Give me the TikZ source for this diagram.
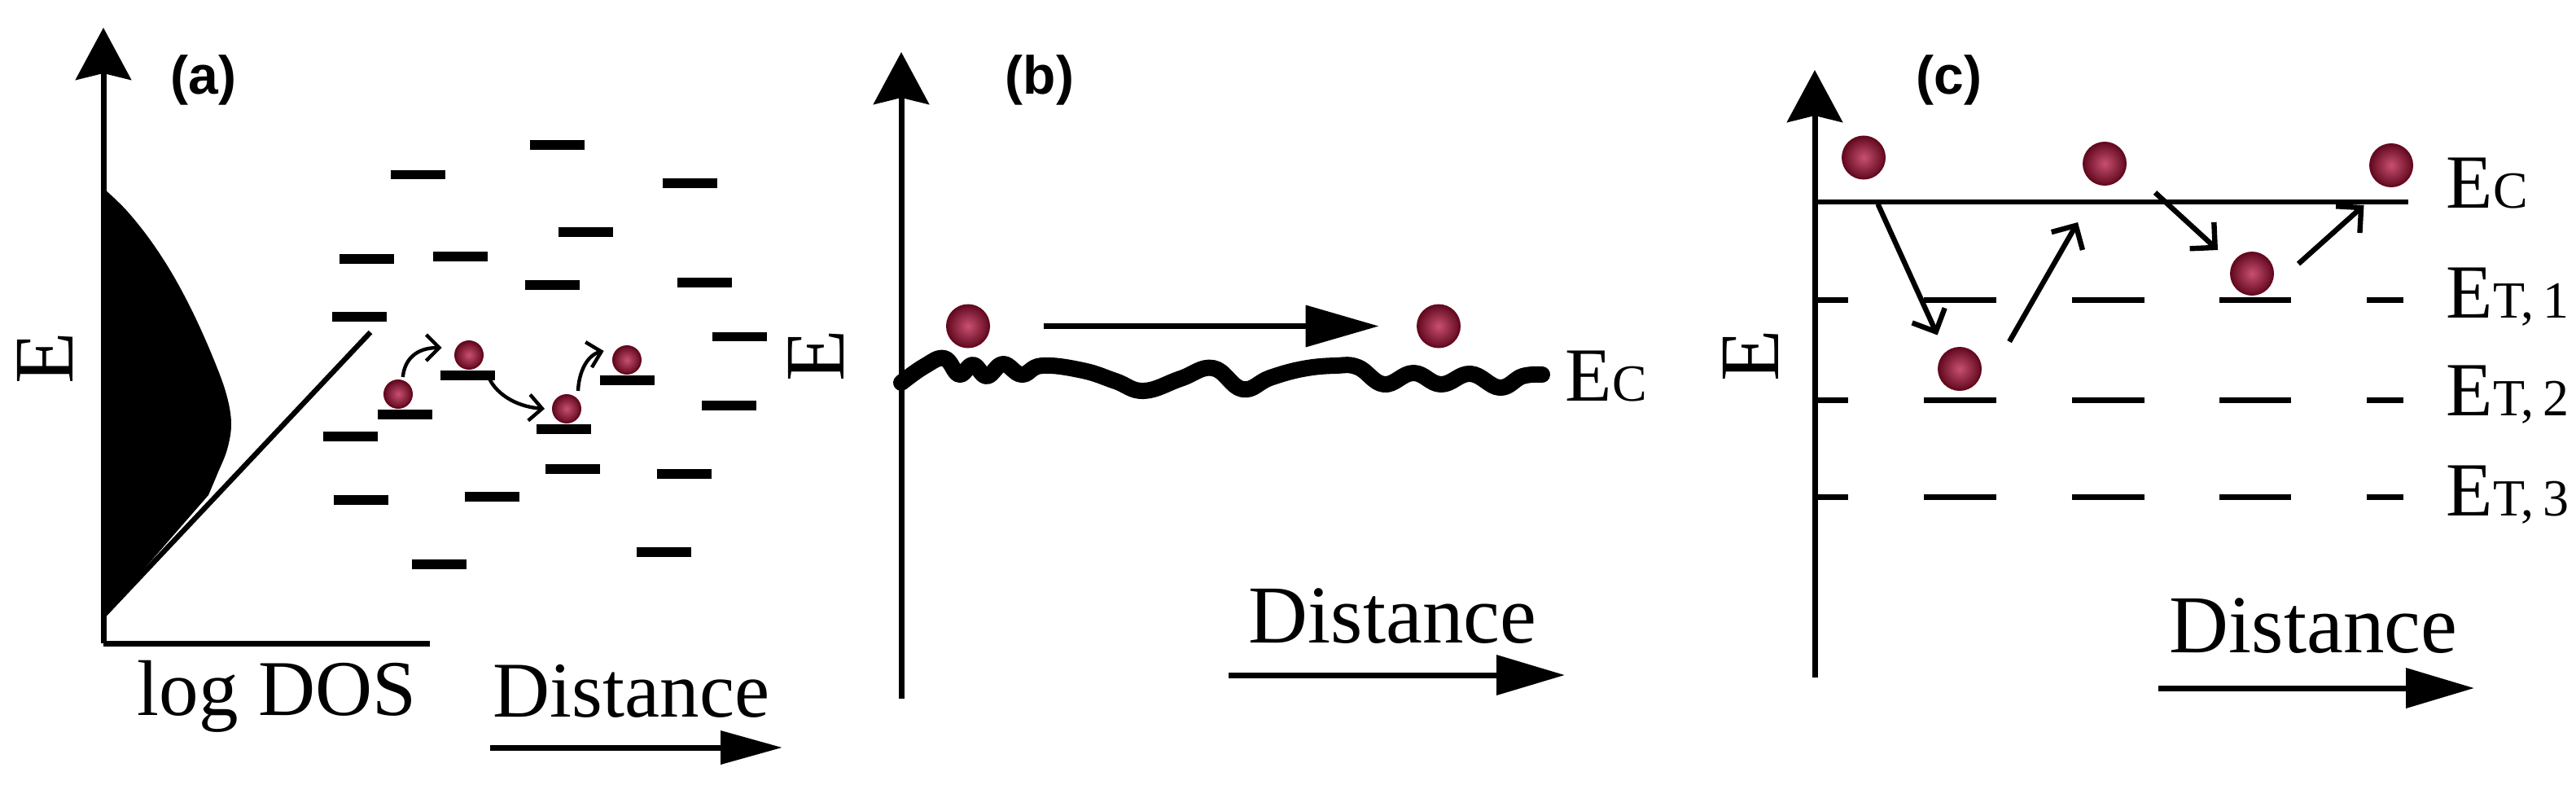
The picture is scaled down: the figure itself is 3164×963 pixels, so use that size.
\documentclass[tikz,border=0pt]{standalone}
\usepackage{fontspec}
\setmainfont{Liberation Serif}
\newfontfamily\labsf{Liberation Sans}
\usetikzlibrary{arrows.meta,calc}
\definecolor{edark}{RGB}{100,10,32}
\definecolor{elight}{RGB}{200,80,112}
\begin{document}
\begin{tikzpicture}[x=0.25pt,y=-0.25pt,
  axis/.style={line width=1.75pt,-{Stealth[length=16pt,width=17pt,inset=2pt]}},
  plain/.style={line width=1.75pt},
  distarrow/.style={line width=1.75pt,-{Triangle[length=21pt,width=12pt]}},
  level/.style={line width=2.9pt},
  trap/.style={line width=1.75pt},
  electron/.style={circle,inner sep=0pt,shading=radial,inner color=elight,outer color=edark,draw=edark,line width=0.5pt},
  hopa/.style={line width=1.1pt,-{Straight Barb[length=4pt,width=8pt]}},
  hopc/.style={line width=1.6pt,-{Straight Barb[length=5.5pt,width=11pt]}},
  wavy/.style={line width=5pt,line cap=round,line join=round},
  lbl/.style={inner sep=0pt,font=\fontsize{24.25pt}{28pt}\selectfont},
  ylbl/.style={inner sep=0pt,rotate=90,font=\fontsize{26pt}{30pt}\selectfont},
  lblb/.style={inner sep=0pt,font=\fontsize{25.25pt}{29pt}\selectfont},
  elbl/.style={inner sep=0pt,font=\fontsize{23.5pt}{27pt}\selectfont},
  panel/.style={inner sep=0pt,font=\labsf\bfseries\fontsize{16.5pt}{18pt}\selectfont}]
\useasboundingbox (0,0) rectangle (3164,963);
\fill[white] (0,0) rectangle (3164,963);
\newcommand{\sub}[1]{{\fontsize{16pt}{18pt}\selectfont #1}}

% ================= panel (a) =================
\coordinate (ao) at (127,790);
\coordinate (atop) at (127,34);
\coordinate (aright) at (528,790);
\fill (128,232) plot[smooth,tension=0.6] coordinates {(128,232) (155,258) (184,294) (212,337) (238,386) (262,440) (278,484) (284,520) (279,552) (267,582) (256,608)} -- (128,755) -- cycle;
\coordinate (dl0) at (128,755);
\coordinate (dl1) at (455,408);
\draw[line width=1.6pt] (dl0) -- (dl1);
\draw[axis] (ao) -- (atop);
\draw[plain] (ao) -- (aright);
\node[panel] (la) at (250,98) {(a)};
\node[ylbl] (Ea) at (55,440) {E};
\node[lbl,anchor=base west] (dos) at (168,878) {log DOS};
\node[lbl,anchor=base west] (dista) at (605,880) {Distance};
\coordinate (da0) at (602,918);
\coordinate (da1) at (961,918);
\draw[line width=1.75pt,-{Triangle[length=19pt,width=10pt]}] (da0) -- (da1);
\foreach \x/\y in {684/178,513/214.5,847/225,719/285,450/318,565/315,678.5/350,865/347,441/389,908/413.5,574/461,770/467,497/509,895.5/498,430/536,692/527,703/576,840/582,443/614,604/610,815/678,539/693}
  \draw[level] (\x,\y) ++(-33.5,0) -- ++(67,0);
\node[electron,minimum size=8.5pt] (ea1) at (489,484) {};
\node[electron,minimum size=8.5pt] (ea2) at (576,436) {};
\node[electron,minimum size=8.5pt] (ea3) at (696,502) {};
\node[electron,minimum size=8.5pt] (ea4) at (770,442) {};
\draw[hopa] ([shift={(5.8,-21)}]ea1.center) .. controls +(2,-21) and +(-32,0) .. ([shift={(-33.4,-9)}]ea2.center);
\draw[hopa] ([shift={(24,26.5)}]ea2.center) .. controls +(7,18) and +(-39,-3) .. ([shift={(-27,0)}]ea3.center);
\draw[hopa] ([shift={(14,-22)}]ea3.center) .. controls +(1,-24) and +(-20,5) .. ([shift={(-28.4,-11)}]ea4.center);

% ================= panel (b) =================
\coordinate (bo) at (1107,858);
\coordinate (btop) at (1107,64);
\draw[axis] (bo) -- (btop);
\node[panel] (lb) at (1277,98) {(b)};
\node[ylbl] (Eb) at (1002,437) {E};
\draw[wavy] plot[smooth,tension=0.7] coordinates {(1107,470) (1135,450) (1160,440) (1178,460) (1195,448) (1212,462) (1232,447) (1255,460) (1280,449) (1330,455) (1370,468) (1405,480) (1450,465) (1490,452) (1526,478) (1560,464) (1600,453) (1640,449) (1668,451) (1700,472) (1736,458) (1770,472) (1806,459) (1842,476) (1870,462) (1894,460)};
\node[electron,minimum size=13pt] (eb1) at (1189,400.5) {};
\node[electron,minimum size=13pt] (eb2) at (1767,400.5) {};
\draw[line width=1.75pt,-{Triangle[length=22.5pt,width=12.5pt]},shorten <=16.4pt,shorten >=11.6pt] (eb1) -- (eb2);
\node[elbl,anchor=base west] (ecb) at (1922,492) {E\sub{C}};
\node[lblb,anchor=base west] (distb) at (1533,789) {Distance};
\coordinate (db0) at (1509,829);
\coordinate (db1) at (1922,829);
\draw[distarrow] (db0) -- (db1);

% ================= panel (c) =================
\coordinate (co) at (2229,832);
\coordinate (ctop) at (2229,86);
\draw[axis] (co) -- (ctop);
\node[panel] (lc) at (2394,98) {(c)};
\node[ylbl] (Ec) at (2150,437) {E};
\coordinate (ec0) at (2231,247.5);
\coordinate (ec1) at (2958,247.5);
\draw[line width=1.5pt] (ec0) -- (ec1);
\foreach \y in {368,491,610}
  \foreach \a/\b in {2231/2270,2363/2452,2545/2634,2726/2814,2907/2952}
    \draw[trap] (\a,\y) -- (\b,\y);
\node[elbl,anchor=base west] (lec) at (3004,255) {E\sub{C}};
\node[elbl,anchor=base west] (let1) at (3004,390) {E\sub{T,\,1}};
\node[elbl,anchor=base west] (let2) at (3004,510) {E\sub{T,\,2}};
\node[elbl,anchor=base west] (let3) at (3004,633) {E\sub{T,\,3}};
\node[electron,minimum size=13pt] (ec1n) at (2289,193.5) {};
\node[electron,minimum size=13pt] (ec2n) at (2585,201) {};
\node[electron,minimum size=13pt] (ec3n) at (2937,203) {};
\node[electron,minimum size=13pt] (ec4n) at (2407,453) {};
\node[electron,minimum size=13pt] (ec5n) at (2766,336) {};
\draw[hopc] ([shift={(17.5,57)}]ec1n.center) -- ([shift={(-27.4,-41.5)}]ec4n.center);
\draw[hopc] ([shift={(61,-33.5)}]ec4n.center) -- ([shift={(-33,72)}]ec2n.center);
\draw[hopc] ([shift={(62,35.5)}]ec2n.center) -- ([shift={(-42,-29)}]ec5n.center);
\draw[hopc] ([shift={(57,-12)}]ec5n.center) -- ([shift={(-33.5,49)}]ec3n.center);
\node[lblb,anchor=base west] (distc) at (2664,801) {Distance};
\coordinate (dc0) at (2651,845);
\coordinate (dc1) at (3039,845);
\draw[distarrow] (dc0) -- (dc1);
\end{tikzpicture}
\end{document}
